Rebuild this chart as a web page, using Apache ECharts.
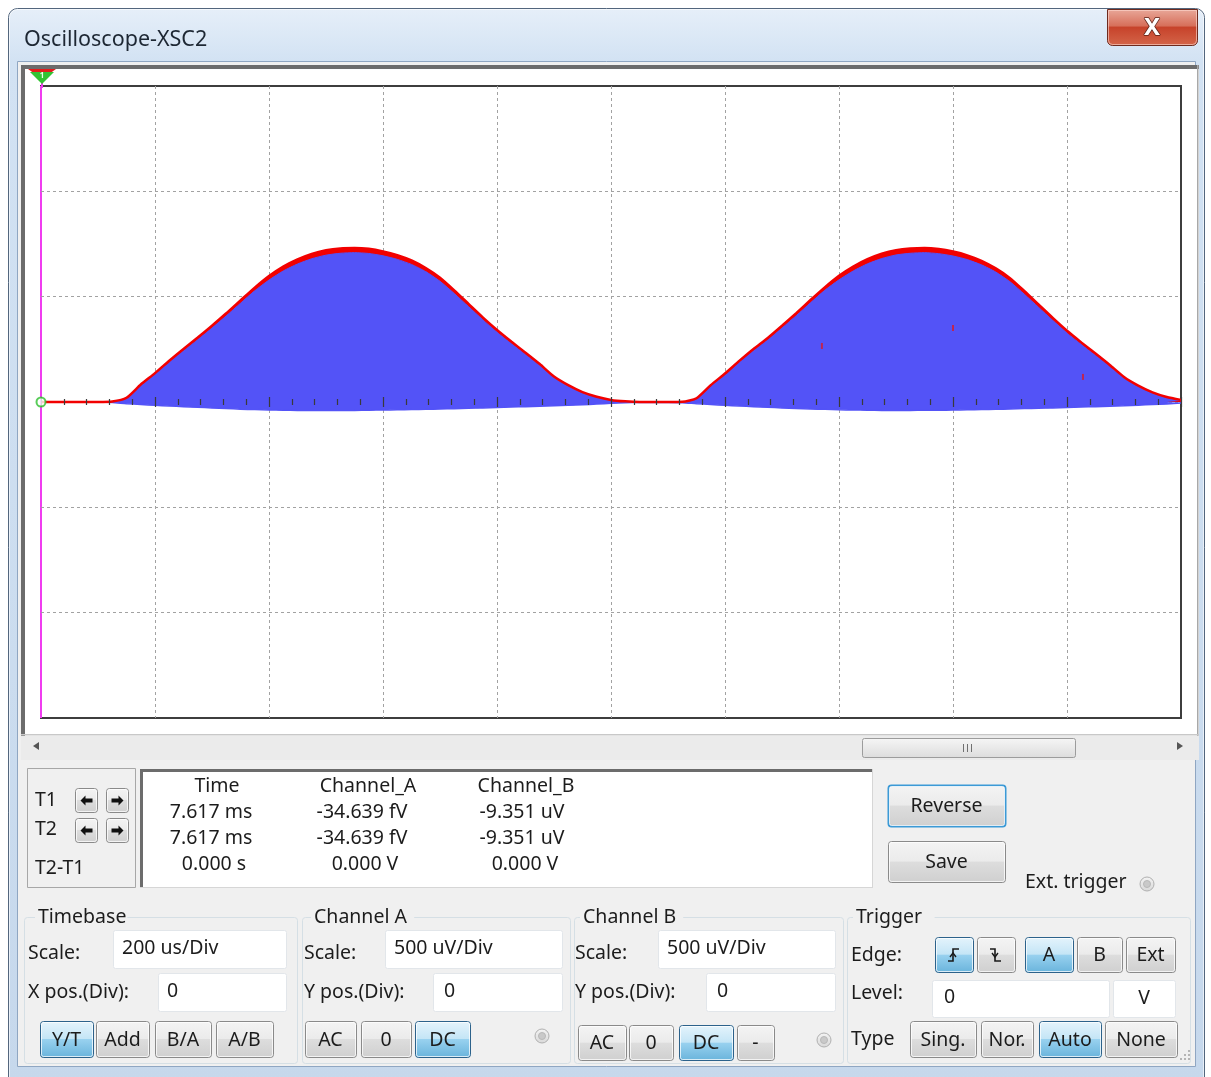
<!DOCTYPE html>
<html>
<head>
<meta charset="utf-8">
<title>Oscilloscope-XSC2</title>
<script src="https://cdn.jsdelivr.net/npm/echarts@6/dist/echarts.min.js"></script>
<style>
  html, body { margin: 0; padding: 0; background: #ffffff; }
  #scope { width: 1211px; height: 1077px; }
</style>
</head>
<body>
<div id="scope"></div>
<script>
// ---- Sampled traces: time in microseconds, voltage in millivolts ----
const timeUs = [
  0, 25, 50, 75, 100, 125, 150, 175, 200, 225,
  250, 275, 300, 325, 350, 375, 400, 425, 450, 475,
  500, 525, 550, 575, 600, 625, 650, 675, 700, 725,
  750, 775, 800, 825, 850, 875, 900, 925, 950, 975,
  1000, 1025, 1050, 1075, 1100, 1125, 1150, 1175, 1200, 1225,
  1250, 1275, 1300, 1325, 1350, 1375, 1400, 1425, 1450, 1475,
  1500, 1525, 1550, 1575, 1600, 1625, 1650, 1675, 1700, 1725,
  1750, 1775, 1800, 1825, 1850, 1875, 1900, 1925, 1950, 1975,
  2000
];

// Channel A (red trace)
const chanA = [
  0.000, 0.000, 0.000, 0.000, 0.000, 0.002, 0.020, 0.083, 0.137, 0.196,
  0.252, 0.306, 0.362, 0.421, 0.482, 0.543, 0.598, 0.643, 0.677, 0.703,
  0.720, 0.729, 0.731, 0.727, 0.715, 0.697, 0.672, 0.636, 0.590, 0.530,
  0.466, 0.402, 0.342, 0.287, 0.234, 0.180, 0.121, 0.080, 0.047, 0.025,
  0.010, 0.003, 0.000, 0.000, 0.000, 0.001, 0.018, 0.080, 0.135, 0.195,
  0.252, 0.304, 0.362, 0.422, 0.484, 0.544, 0.599, 0.643, 0.678, 0.704,
  0.721, 0.729, 0.731, 0.726, 0.714, 0.696, 0.670, 0.634, 0.588, 0.527,
  0.463, 0.399, 0.338, 0.283, 0.230, 0.176, 0.119, 0.078, 0.046, 0.024,
  0.010
];

// Channel B (blue band): upper and lower edges of the dense trace
const chanBUpper = [
  0.000, 0.000, 0.000, 0.000, 0.000, 0.000, 0.014, 0.076, 0.130, 0.188,
  0.244, 0.297, 0.352, 0.409, 0.469, 0.528, 0.579, 0.622, 0.655, 0.680,
  0.697, 0.706, 0.709, 0.705, 0.694, 0.677, 0.653, 0.619, 0.573, 0.515,
  0.453, 0.391, 0.332, 0.278, 0.226, 0.173, 0.115, 0.075, 0.043, 0.021,
  0.007, 0.001, 0.000, 0.000, 0.000, 0.000, 0.012, 0.073, 0.128, 0.187,
  0.244, 0.295, 0.352, 0.410, 0.471, 0.530, 0.580, 0.622, 0.656, 0.681,
  0.698, 0.706, 0.709, 0.704, 0.693, 0.676, 0.651, 0.617, 0.571, 0.512,
  0.450, 0.388, 0.328, 0.274, 0.222, 0.169, 0.113, 0.073, 0.042, 0.020,
  0.006
];
const chanBLower = [
  0.000, 0.000, 0.000, 0.000, 0.000, -0.002, -0.008, -0.012, -0.016, -0.019,
  -0.022, -0.025, -0.028, -0.031, -0.034, -0.036, -0.038, -0.039, -0.040, -0.040,
  -0.040, -0.040, -0.040, -0.039, -0.038, -0.037, -0.036, -0.035, -0.033, -0.032,
  -0.030, -0.028, -0.026, -0.024, -0.022, -0.020, -0.018, -0.016, -0.013, -0.010,
  -0.006, -0.003, -0.002, -0.002, -0.002, -0.003, -0.008, -0.012, -0.016, -0.019,
  -0.022, -0.025, -0.028, -0.031, -0.033, -0.035, -0.037, -0.038, -0.039, -0.040,
  -0.040, -0.040, -0.039, -0.039, -0.038, -0.037, -0.036, -0.035, -0.033, -0.031,
  -0.030, -0.028, -0.026, -0.024, -0.022, -0.020, -0.018, -0.015, -0.012, -0.009,
  -0.005
];

// Stray samples of channel A inside the band
const speckTimes = [1370, 1600, 1828];
const speckValues = [0.266, 0.351, 0.119];

// Screen scale: 200 us/Div over 10 divisions, 500 uV/Div over 6 divisions
const timeMin = 0, timeMax = 2000, timeDiv = 200;
const voltMin = -1.5, voltMax = 1.5, voltDiv = 0.5;
const cursorTime = 0;
const triggerLevel = 0;

// Readout table
const readoutHeaders = ['Time', 'Channel_A', 'Channel_B'];
const readoutT1 = ['7.617 ms', '-34.639 fV', '-9.351 uV'];
const readoutT2 = ['7.617 ms', '-34.639 fV', '-9.351 uV'];
const readoutDelta = ['0.000 s', '0.000 V', '0.000 V'];

// Control settings
const timebaseScale = '200 us/Div';
const timebaseXPos = '0';
const chanAScale = '500 uV/Div';
const chanAYPos = '0';
const chanBScale = '500 uV/Div';
const chanBYPos = '0';
const triggerLevelText = '0';
const triggerUnit = 'V';

// ---------------------------------------------------------------------
const UI_FONT = '"Noto Sans", "Open Sans", "DejaVu Sans", sans-serif';
const pairs = (ys) => timeUs.map((t, i) => [t, ys[i]]);

function grad(stops) {
  return { type: 'linear', x: 0, y: 0, x2: 0, y2: 1,
    colorStops: stops.map(([o, c]) => ({ offset: o, color: c })) };
}

const els = [];
function R(x, y, w, h, style, r, z) {
  els.push({ type: 'rect', silent: true, z: z == null ? 1 : z,
    shape: { x: x, y: y, width: w, height: h, r: r || 0 }, style: style });
}
function T(x, y, s, o) {
  o = o || {};
  const al = o.align || 'left';
  els.push({ type: 'text', silent: true, z: o.z || 30, x: x, y: y,
    style: { text: s, font: (o.weight || 'normal') + ' ' + (o.size || 19.5) + 'px ' + UI_FONT,
      fill: o.color || '#1c1c1c', stroke: o.stroke, lineWidth: o.lw || 0,
      align: al, textAlign: al, verticalAlign: 'middle', textVerticalAlign: 'middle' } });
}
function P(points, style, z, type) {
  els.push({ type: type || 'polygon', silent: true, z: z || 40, shape: { points: points }, style: style });
}
function button(x, y, w, h, label, active, focus) {
  const fill = active
    ? grad([[0, '#e5f4fc'], [0.48, '#c4e5f6'], [0.5, '#98d1ef'], [1, '#68b3db']])
    : grad([[0, '#f4f4f4'], [0.48, '#ebebeb'], [0.5, '#dddddd'], [1, '#cfcfcf']]);
  R(x + 0.5, y + 0.5, w, h, { fill: fill, stroke: active ? '#2c628b' : (focus ? '#3c9ad6' : '#8a8a8a'), lineWidth: focus ? 2 : 1 }, 3, 20);
  R(x + 1.5, y + 1.5, w - 2, h - 2, { fill: 'none', stroke: 'rgba(255,255,255,0.75)', lineWidth: 1 }, 2, 21);
  if (label) T(x + w / 2, y + h / 2 + 1, label, { align: 'center', z: 30 });
}
function field(x, y, w, h, value, tx, center) {
  R(x + 0.5, y + 0.5, w, h, { fill: '#ffffff', stroke: '#e2e6ea', lineWidth: 1 }, 2, 15);
  if (center) T(x + w / 2, y + h / 2, value, { align: 'center' });
  else T(tx, y + h / 2 - 1, value, {});
}
function frame(x, y, w, h, label, lx) {
  R(x + 0.5, y + 0.5, w, h, { fill: 'none', stroke: '#d5dfe5', lineWidth: 1 }, 3, 10);
  R(lx - 3, y - 10, label.length * 10.8 + 6, 20, { fill: '#f0f0f0' }, 0, 11);
  T(lx, y, label, {});
}
function radio(cx, cy) {
  els.push({ type: 'circle', silent: true, z: 20, shape: { cx: cx, cy: cy, r: 7 },
    style: { fill: grad([[0, '#f4f4f4'], [1, '#d8d8d8']]), stroke: '#b0b0b0', lineWidth: 1 } });
  els.push({ type: 'circle', silent: true, z: 21, shape: { cx: cx, cy: cy, r: 3.5 },
    style: { fill: '#c9c9c9', stroke: '#b8b8b8', lineWidth: 1 } });
}
// dir = -1 points left, dir = 1 points right
function arrowBtn(x, y, dir) {
  button(x, y, 22, 24, '', false);
  const cx = x + 11.5, cy = y + 12.5, d = dir;
  P([[cx + 6 * d, cy], [cx + 1 * d, cy - 5], [cx + 1 * d, cy - 2], [cx - 6 * d, cy - 2],
     [cx - 6 * d, cy + 2], [cx + 1 * d, cy + 2], [cx + 1 * d, cy + 5]], { fill: '#111' }, 32);
}
function edgeGlyph(x, y, rising) {
  const cx = x + 19, cy = y + 18, s = rising ? 1 : -1;
  P([[cx - 6, cy + 6 * s], [cx - 1, cy + 6 * s], [cx - 1, cy - 6 * s], [cx + 5, cy - 6 * s]],
    { stroke: '#1a1a1a', lineWidth: 1.6, fill: 'none' }, 32, 'polyline');
  P([[cx - 4, cy + 2 * s], [cx - 1, cy - 2 * s], [cx + 2, cy + 2 * s]],
    { stroke: '#1a1a1a', lineWidth: 1.4, fill: 'none' }, 32, 'polyline');
}

// ---- Window chrome ----
R(8.5, 8.5, 1196, 1080, { fill: grad([[0, '#e6eff9'], [0.05, '#d2e2f3'], [1, '#c6d8ec']]), stroke: '#53667d', lineWidth: 1 }, [9, 9, 0, 0], 0);
R(9.5, 9.5, 1194, 1078, { fill: 'none', stroke: 'rgba(255,255,255,0.6)', lineWidth: 1 }, [8, 8, 0, 0], 1);
T(24, 40, 'Oscilloscope-XSC2', { size: 21.5, color: '#1d2733' });
// close button
R(1107.5, 9.5, 90, 36, { fill: grad([[0, '#e9a99b'], [0.45, '#d7705b'], [0.5, '#c7432b'], [1, '#d4664a']]), stroke: '#6e2a1e', lineWidth: 1 }, [0, 0, 5, 5], 5);
R(1108.5, 10.5, 88, 34, { fill: 'none', stroke: 'rgba(255,220,210,0.6)', lineWidth: 1 }, [0, 0, 4, 4], 6);
T(1152, 28, 'X', { size: 24, weight: 'bold', color: '#ffffff', stroke: '#5a2016', lw: 1.5, align: 'center' });
// client area
R(17.5, 61.5, 1178, 1005, { fill: '#f0f0f0', stroke: '#8fa6c2', lineWidth: 1 }, 0, 2);

// screen bezel
R(21, 65, 1178, 671, { fill: '#ffffff' }, 0, 3);
R(21, 65, 1178, 4, { fill: '#6c6c6c' }, 0, 4);
R(21, 65, 4, 671, { fill: '#6c6c6c' }, 0, 4);
R(1197, 65, 1.5, 671, { fill: '#a8a8a8' }, 0, 4);
R(21, 734, 1178, 1.5, { fill: '#c8c8c8' }, 0, 4);

// horizontal scroll bar
R(21, 736, 1178, 24, { fill: '#ebebeb' }, 0, 4);
P([[33, 746], [39, 742], [39, 750]], { fill: '#555' }, 6);
P([[1183, 746], [1177, 742], [1177, 750]], { fill: '#555' }, 6);
R(862.5, 738.5, 213, 19, { fill: grad([[0, '#f6f6f6'], [1, '#dcdcdc']]), stroke: '#9c9c9c', lineWidth: 1 }, 2, 6);
[963, 967, 971].forEach(gx => R(gx, 744, 1, 8, { fill: '#707070' }, 0, 7));

// cursor panel
R(27.5, 768.5, 108, 119, { fill: '#f0f0f0', stroke: '#a7a7a7', lineWidth: 1 }, 0, 5);
T(35, 800, 'T1', {});
T(35, 829, 'T2', {});
T(35, 868, 'T2-T1', {});
arrowBtn(75, 788, -1); arrowBtn(106, 788, 1);
arrowBtn(75, 818, -1); arrowBtn(106, 818, 1);

// readout box
R(140, 769, 733, 119, { fill: '#ffffff' }, 0, 5);
R(140, 769, 733, 3, { fill: '#6c6c6c' }, 0, 6);
R(140, 769, 3, 119, { fill: '#6c6c6c' }, 0, 6);
R(140, 887, 733, 1, { fill: '#d6d6d6' }, 0, 6);
R(872, 769, 1, 119, { fill: '#d6d6d6' }, 0, 6);
const colX = [[217, 211], [368, 362], [526, 522]];
readoutHeaders.forEach((h, i) => T(colX[i][0], 786, h, { align: 'center' }));
readoutT1.forEach((v, i) => T(colX[i][1], 812, v, { align: 'center' }));
readoutT2.forEach((v, i) => T(colX[i][1], 838, v, { align: 'center' }));
readoutDelta.forEach((v, i) => T(colX[i][1] + 3, 864, v, { align: 'center' }));

button(888, 785, 117, 41, 'Reverse', false, true);
button(888, 841, 117, 41, 'Save', false);
T(1025, 882, 'Ext. trigger', {});
radio(1147, 884);

// Timebase group
frame(24, 917, 273, 146, 'Timebase', 38);
T(28, 953, 'Scale:', {});
field(113, 930, 173, 38, timebaseScale, 122);
T(28, 992, 'X pos.(Div):', {});
field(158, 973, 128, 38, timebaseXPos, 167);
button(40, 1021, 53, 36, 'Y/T', true);
button(96, 1021, 53, 36, 'Add', false);
button(155, 1021, 56, 36, 'B/A', false);
button(216, 1021, 57, 36, 'A/B', false);

// Channel A group
frame(302, 917, 268, 146, 'Channel A', 314);
T(304, 953, 'Scale:', {});
field(385, 930, 177, 38, chanAScale, 394);
T(304, 992, 'Y pos.(Div):', {});
field(433, 973, 129, 38, chanAYPos, 444);
button(305, 1021, 51, 36, 'AC', false);
button(361, 1021, 50, 36, '0', false);
button(415, 1021, 55, 36, 'DC', true);
radio(542, 1036);

// Channel B group
frame(574, 917, 269, 146, 'Channel B', 583);
T(575, 953, 'Scale:', {});
field(658, 930, 177, 38, chanBScale, 667);
T(575, 992, 'Y pos.(Div):', {});
field(706, 973, 129, 38, chanBYPos, 717);
button(578, 1025, 48, 35, 'AC', false);
button(629, 1025, 44, 35, '0', false);
button(679, 1025, 54, 35, 'DC', true);
button(737, 1025, 37, 35, '-', false);
radio(824, 1040);

// Trigger group
frame(847, 917, 343, 146, 'Trigger', 856);
T(851, 955, 'Edge:', {});
button(935, 937, 38, 35, '', true); edgeGlyph(935, 937, true);
button(977, 937, 38, 35, '', false); edgeGlyph(977, 937, false);
button(1025, 937, 48, 35, 'A', true);
button(1077, 937, 45, 35, 'B', false);
button(1126, 937, 49, 35, 'Ext', false);
T(851, 993, 'Level:', {});
field(932, 980, 177, 37, triggerLevelText, 944);
field(1113, 980, 62, 37, triggerUnit, 0, true);
T(851, 1039, 'Type', {});
button(910, 1021, 66, 36, 'Sing.', false);
button(981, 1021, 52, 36, 'Nor.', false);
button(1039, 1021, 62, 36, 'Auto', true);
button(1105, 1021, 72, 36, 'None', false);
// resize grip
[[1188, 1050], [1184, 1054], [1188, 1054], [1180, 1058], [1184, 1058], [1188, 1058]].forEach(
  ([gx, gy]) => R(gx, gy, 2, 2, { fill: '#b5b5b5' }, 0, 8));

// ---------------------------------------------------------------------
const chart = echarts.init(document.getElementById('scope'), null, { renderer: 'canvas' });

const hiddenAxis = {
  axisLabel: { show: false }, axisTick: { show: false }, axisLine: { show: false, onZero: false }
};
const dashGrid = { show: true, showMinLine: false, showMaxLine: false,
  lineStyle: { color: '#a2a2a2', width: 1, type: [3, 3] } };
// tick rulers along the zero-volt line, one pointing up and one pointing down
const centreTicks = (inside, zeroAxis) => ({
  type: 'value', min: timeMin, max: timeMax, interval: timeDiv, position: 'bottom', z: 12,
  axisLine: { show: false, onZero: true, onZeroAxisIndex: zeroAxis },
  axisTick: { show: true, inside: inside, length: 5, lineStyle: { color: '#3a3a3a', width: 1.2 } },
  minorTick: { show: true, splitNumber: 5, length: 3, lineStyle: { color: '#3a3a3a', width: 1.2 } },
  axisLabel: { show: false }, splitLine: { show: false }
});
const traceLine = { type: 'line', showSymbol: false, silent: true, smooth: 0.2 };

chart.setOption({
  animation: false,
  backgroundColor: 'transparent',
  graphic: { elements: els },
  grid: {
    left: 41, top: 86, width: 1140, height: 632,
    show: true, backgroundColor: 'transparent', borderColor: '#3d3d3d', borderWidth: 2,
    containLabel: false, outerBoundsMode: 'none', z: 5
  },
  xAxis: [
    Object.assign({ type: 'value', min: timeMin, max: timeMax, interval: timeDiv, splitLine: dashGrid, z: 6 }, hiddenAxis),
    centreTicks(true, 0),
    centreTicks(false, 1)
  ],
  yAxis: [
    Object.assign({ type: 'value', min: voltMin, max: voltMax, interval: voltDiv, splitLine: dashGrid, z: 6 }, hiddenAxis),
    Object.assign({ type: 'value', min: voltMin, max: voltMax, interval: voltDiv, splitLine: { show: false } }, hiddenAxis)
  ],
  series: [
    Object.assign({}, traceLine, {
      // fills the gap between the two traces' peaks with channel A's colour
      name: 'Channel_A band', data: pairs(chanA),
      lineStyle: { width: 0 }, areaStyle: { color: '#f20000', opacity: 1 }, z: 8
    }),
    Object.assign({}, traceLine, {
      name: 'Channel_B', data: pairs(chanBUpper),
      lineStyle: { color: '#5353f7', width: 1 }, areaStyle: { color: '#5353f7', opacity: 1 }, z: 9
    }),
    Object.assign({}, traceLine, {
      name: 'Channel_B low', data: pairs(chanBLower),
      lineStyle: { color: '#5353f7', width: 1.5 }, areaStyle: { color: '#5353f7', opacity: 1 }, z: 9
    }),
    Object.assign({}, traceLine, {
      name: 'Channel_A', data: pairs(chanA),
      lineStyle: { color: '#f20000', width: 2.5 }, z: 10,
      markLine: {
        silent: true, symbol: ['none', 'none'], label: { show: false },
        lineStyle: { color: '#f03cf0', width: 2, type: 'solid' },
        data: [{ xAxis: cursorTime }]
      }
    }),
    {
      name: 'specks', type: 'scatter', data: speckTimes.map((t, i) => [t, speckValues[i]]),
      symbol: 'rect', symbolSize: [2, 6], itemStyle: { color: '#d81a2a' }, silent: true, z: 13
    },
    {
      name: 'trigger', type: 'scatter', data: [[cursorTime, triggerLevel]],
      symbol: 'emptyCircle', symbolSize: 9, itemStyle: { color: '#2fbf2f', borderColor: '#2fbf2f', borderWidth: 1.2 },
      silent: true, z: 14
    }
  ]
});

// T1/T2 cursor handle above the trace area, placed from the cursor's time value
const cx = chart.convertToPixel({ xAxisIndex: 0 }, cursorTime) + 1;
const gridTop = chart.convertToPixel({ yAxisIndex: 0 }, voltMax);
els.push({ type: 'line', silent: true, z: 50, shape: { x1: cx, y1: 70, x2: cx, y2: gridTop + 2 },
  style: { stroke: '#f03cf0', lineWidth: 2 } });
els.push({ type: 'polygon', silent: true, z: 51, shape: { points: [[cx - 14, 69], [cx + 14, 69], [cx, 79]] },
  style: { fill: '#e41c1c' } });
els.push({ type: 'polygon', silent: true, z: 52, shape: { points: [[cx - 12, 72], [cx + 12, 72], [cx, 84]] },
  style: { fill: '#33c333' } });
els.push({ type: 'text', silent: true, z: 53, x: cx, y: 76,
  style: { text: '1', font: 'bold 8px ' + UI_FONT, fill: '#e8ffe8', align: 'center', textAlign: 'center',
    verticalAlign: 'middle', textVerticalAlign: 'middle' } });
chart.setOption({ graphic: { elements: els } }, { replaceMerge: ['graphic'] });
</script>
</body>
</html>
